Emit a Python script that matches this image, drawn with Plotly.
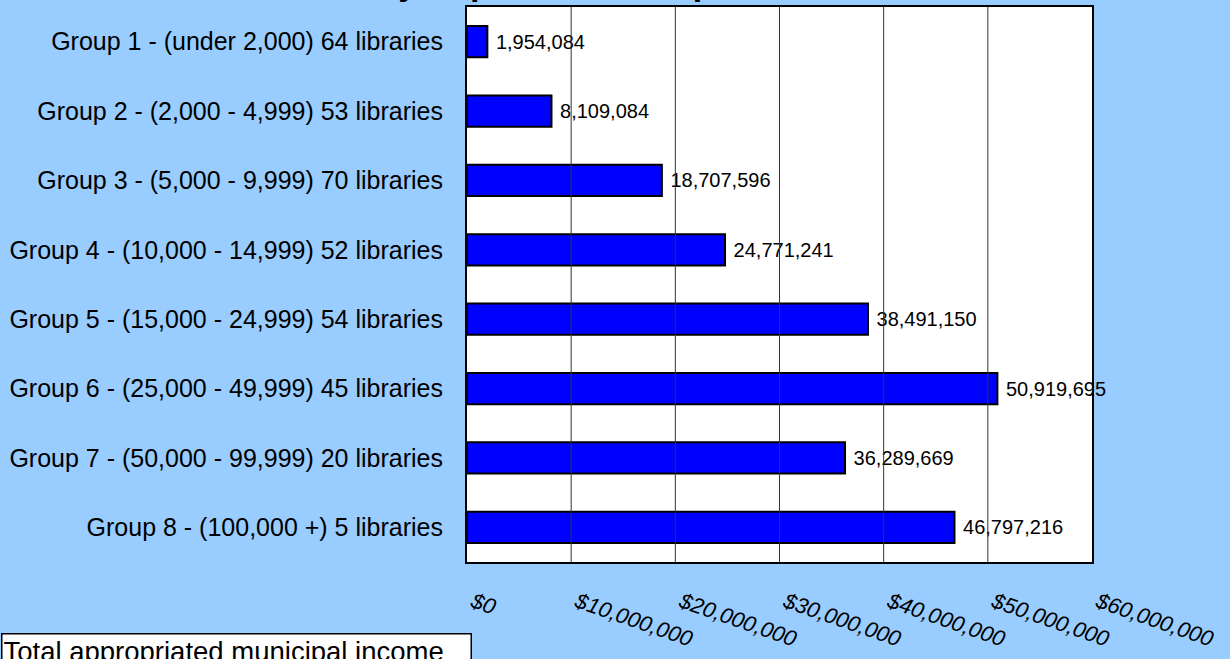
import plotly.graph_objects as go

categories = [
    "Group 1 - (under 2,000) 64 libraries",
    "Group 2 - (2,000 - 4,999) 53 libraries",
    "Group 3 - (5,000 - 9,999) 70 libraries",
    "Group 4 - (10,000 - 14,999) 52 libraries",
    "Group 5 - (15,000 - 24,999) 54 libraries",
    "Group 6 - (25,000 - 49,999) 45 libraries",
    "Group 7 - (50,000 - 99,999) 20 libraries",
    "Group 8 - (100,000 +) 5 libraries",
]
values = [1954084, 8109084, 18707596, 24771241, 38491150, 50919695, 36289669, 46797216]
x_ticks = [0, 10000000, 20000000, 30000000, 40000000, 50000000, 60000000]
x_tick_labels = ["$" + format(v, ",") for v in x_ticks]
title_text = "Total Appropriated Municipal Income<br>by Population Group"
note_text = "Total appropriated municipal income"

FONT = "Arial, Liberation Sans, sans-serif"
BG = "#99CCFF"

fig = go.Figure()
fig.add_trace(go.Bar(
    y=categories,
    x=values,
    orientation="h",
    width=0.45,
    marker=dict(color="#0000FF", line=dict(color="black", width=2)),
    texttemplate="\u00a0%{x:,}",
    textposition="outside",
    textfont=dict(family=FONT, size=20, color="black"),
    cliponaxis=False,
    constraintext="none",
    hoverinfo="skip",
))

# vertical gridlines drawn above the bars and labels, as in the original
shapes = []
for v in x_ticks[1:-1]:
    shapes.append(dict(type="line", xref="x", yref="paper", x0=v, x1=v, y0=0, y1=1,
                       line=dict(color="#333333", width=1), layer="above"))

fig.update_layout(
    width=1230, height=659,
    paper_bgcolor=BG, plot_bgcolor="white",
    margin=dict(l=467, r=138, t=7, b=97, autoexpand=False),
    showlegend=False,
    shapes=shapes,
    annotations=[
        dict(text=title_text, xref="paper", yref="paper", x=0.1255, y=1.0056,
             xanchor="center", yanchor="bottom", showarrow=False, align="center",
             font=dict(family=FONT, size=34, color="black", weight="bold")),
        dict(text=note_text, xref="paper", yref="paper", x=-0.7456, y=-0.1279,
             xanchor="left", yanchor="top", showarrow=False, align="left",
             width=466,
             font=dict(family=FONT, size=27.5, color="black"),
             bgcolor="white", bordercolor="black", borderwidth=1.5, borderpad=1),
    ],
)
fig.update_xaxes(
    range=[x_ticks[0], x_ticks[-1]], tickvals=x_ticks, ticktext=x_tick_labels,
    tickangle=19, ticklabelstandoff=17, ticklabelshift=6,
    showgrid=False, zeroline=False,
    showline=True, mirror=True, linecolor="black", linewidth=2, ticks="",
    tickfont=dict(family=FONT, size=22, color="black", style="italic"),
)
fig.update_yaxes(
    type="category", autorange="reversed", showgrid=False,
    showline=True, mirror=True, linecolor="black", linewidth=2, ticks="",
    ticklabelstandoff=17,
    tickfont=dict(family=FONT, size=25, color="black"),
)

fig.write_html("out.html", config={"displayModeBar": False},
               post_script="document.body.style.margin='0';")
